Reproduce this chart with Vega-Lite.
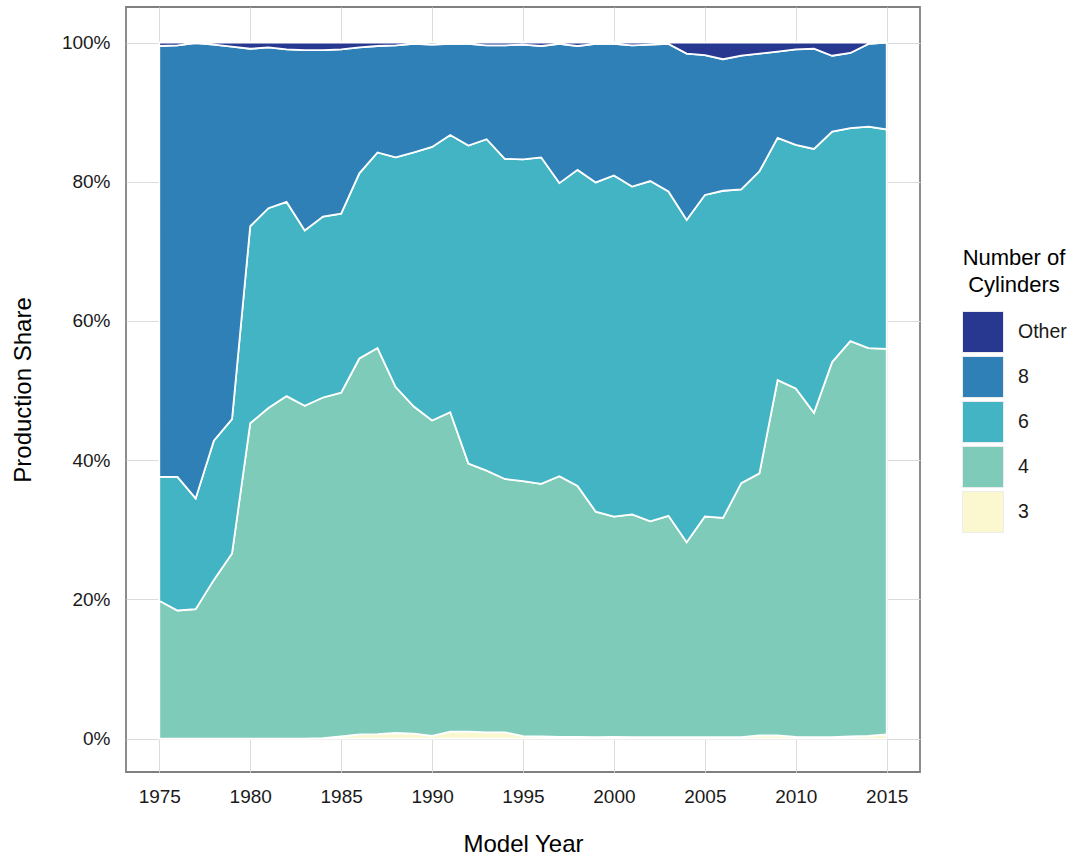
{
  "$schema": "https://vega.github.io/schema/vega-lite/v6.json",
  "autosize": {"type": "none"},
  "padding": {"left": 126, "top": 7, "right": 153, "bottom": 86},
  "width": 794,
  "height": 765,
  "background": "white",
  "config": {
    "font": "Liberation Sans",
    "view": {"stroke": "#808080", "strokeWidth": 1.8},
    "axis": {
      "domain": false, "ticks": false, "grid": true, "gridColor": "#dcdcdc", "gridWidth": 1,
      "labelFont": "Liberation Sans", "labelFontSize": 19, "labelColor": "#1a1a1a",
      "titleFont": "Liberation Sans", "titleFontSize": 24, "titleFontWeight": "normal", "titleColor": "#000000"
    },
    "legend": {
      "labelFont": "Liberation Sans", "labelFontSize": 19.5, "labelColor": "#1a1a1a",
      "titleFont": "Liberation Sans", "titleFontSize": 22, "titleFontWeight": "normal", "titleColor": "#000000"
    }
  },
  "data": {"values": [
    {"year":1975,"cyl":"3","share":0},{"year":1975,"cyl":"4","share":19.8},{"year":1975,"cyl":"6","share":17.8},{"year":1975,"cyl":"8","share":61.9},{"year":1975,"cyl":"Other","share":0.5},
    {"year":1976,"cyl":"3","share":0},{"year":1976,"cyl":"4","share":18.4},{"year":1976,"cyl":"6","share":19.2},{"year":1976,"cyl":"8","share":62.0},{"year":1976,"cyl":"Other","share":0.4},
    {"year":1977,"cyl":"3","share":0},{"year":1977,"cyl":"4","share":18.6},{"year":1977,"cyl":"6","share":15.9},{"year":1977,"cyl":"8","share":65.4},{"year":1977,"cyl":"Other","share":0.1},
    {"year":1978,"cyl":"3","share":0},{"year":1978,"cyl":"4","share":22.8},{"year":1978,"cyl":"6","share":20.0},{"year":1978,"cyl":"8","share":56.9},{"year":1978,"cyl":"Other","share":0.3},
    {"year":1979,"cyl":"3","share":0},{"year":1979,"cyl":"4","share":26.6},{"year":1979,"cyl":"6","share":19.3},{"year":1979,"cyl":"8","share":53.5},{"year":1979,"cyl":"Other","share":0.6},
    {"year":1980,"cyl":"3","share":0},{"year":1980,"cyl":"4","share":45.3},{"year":1980,"cyl":"6","share":28.3},{"year":1980,"cyl":"8","share":25.5},{"year":1980,"cyl":"Other","share":0.9},
    {"year":1981,"cyl":"3","share":0},{"year":1981,"cyl":"4","share":47.5},{"year":1981,"cyl":"6","share":28.7},{"year":1981,"cyl":"8","share":23.1},{"year":1981,"cyl":"Other","share":0.7},
    {"year":1982,"cyl":"3","share":0},{"year":1982,"cyl":"4","share":49.2},{"year":1982,"cyl":"6","share":27.9},{"year":1982,"cyl":"8","share":21.9},{"year":1982,"cyl":"Other","share":1.0},
    {"year":1983,"cyl":"3","share":0},{"year":1983,"cyl":"4","share":47.8},{"year":1983,"cyl":"6","share":25.2},{"year":1983,"cyl":"8","share":25.9},{"year":1983,"cyl":"Other","share":1.1},
    {"year":1984,"cyl":"3","share":0.05},{"year":1984,"cyl":"4","share":48.95},{"year":1984,"cyl":"6","share":26.0},{"year":1984,"cyl":"8","share":23.9},{"year":1984,"cyl":"Other","share":1.1},
    {"year":1985,"cyl":"3","share":0.3},{"year":1985,"cyl":"4","share":49.4},{"year":1985,"cyl":"6","share":25.7},{"year":1985,"cyl":"8","share":23.6},{"year":1985,"cyl":"Other","share":1.0},
    {"year":1986,"cyl":"3","share":0.6},{"year":1986,"cyl":"4","share":54.0},{"year":1986,"cyl":"6","share":26.6},{"year":1986,"cyl":"8","share":18.1},{"year":1986,"cyl":"Other","share":0.7},
    {"year":1987,"cyl":"3","share":0.65},{"year":1987,"cyl":"4","share":55.45},{"year":1987,"cyl":"6","share":28.1},{"year":1987,"cyl":"8","share":15.3},{"year":1987,"cyl":"Other","share":0.5},
    {"year":1988,"cyl":"3","share":0.8},{"year":1988,"cyl":"4","share":49.7},{"year":1988,"cyl":"6","share":33.0},{"year":1988,"cyl":"8","share":16.1},{"year":1988,"cyl":"Other","share":0.4},
    {"year":1989,"cyl":"3","share":0.7},{"year":1989,"cyl":"4","share":47.0},{"year":1989,"cyl":"6","share":36.5},{"year":1989,"cyl":"8","share":15.6},{"year":1989,"cyl":"Other","share":0.2},
    {"year":1990,"cyl":"3","share":0.4},{"year":1990,"cyl":"4","share":45.3},{"year":1990,"cyl":"6","share":39.3},{"year":1990,"cyl":"8","share":14.7},{"year":1990,"cyl":"Other","share":0.3},
    {"year":1991,"cyl":"3","share":1.0},{"year":1991,"cyl":"4","share":45.9},{"year":1991,"cyl":"6","share":39.8},{"year":1991,"cyl":"8","share":13.1},{"year":1991,"cyl":"Other","share":0.2},
    {"year":1992,"cyl":"3","share":1.0},{"year":1992,"cyl":"4","share":38.5},{"year":1992,"cyl":"6","share":45.7},{"year":1992,"cyl":"8","share":14.6},{"year":1992,"cyl":"Other","share":0.2},
    {"year":1993,"cyl":"3","share":0.9},{"year":1993,"cyl":"4","share":37.6},{"year":1993,"cyl":"6","share":47.6},{"year":1993,"cyl":"8","share":13.5},{"year":1993,"cyl":"Other","share":0.4},
    {"year":1994,"cyl":"3","share":0.9},{"year":1994,"cyl":"4","share":36.4},{"year":1994,"cyl":"6","share":46.0},{"year":1994,"cyl":"8","share":16.3},{"year":1994,"cyl":"Other","share":0.4},
    {"year":1995,"cyl":"3","share":0.35},{"year":1995,"cyl":"4","share":36.65},{"year":1995,"cyl":"6","share":46.2},{"year":1995,"cyl":"8","share":16.5},{"year":1995,"cyl":"Other","share":0.3},
    {"year":1996,"cyl":"3","share":0.3},{"year":1996,"cyl":"4","share":36.3},{"year":1996,"cyl":"6","share":46.9},{"year":1996,"cyl":"8","share":16.0},{"year":1996,"cyl":"Other","share":0.5},
    {"year":1997,"cyl":"3","share":0.25},{"year":1997,"cyl":"4","share":37.45},{"year":1997,"cyl":"6","share":42.1},{"year":1997,"cyl":"8","share":20.0},{"year":1997,"cyl":"Other","share":0.2},
    {"year":1998,"cyl":"3","share":0.25},{"year":1998,"cyl":"4","share":36.05},{"year":1998,"cyl":"6","share":45.4},{"year":1998,"cyl":"8","share":17.8},{"year":1998,"cyl":"Other","share":0.5},
    {"year":1999,"cyl":"3","share":0.2},{"year":1999,"cyl":"4","share":32.4},{"year":1999,"cyl":"6","share":47.3},{"year":1999,"cyl":"8","share":19.9},{"year":1999,"cyl":"Other","share":0.2},
    {"year":2000,"cyl":"3","share":0.25},{"year":2000,"cyl":"4","share":31.65},{"year":2000,"cyl":"6","share":49.0},{"year":2000,"cyl":"8","share":18.9},{"year":2000,"cyl":"Other","share":0.2},
    {"year":2001,"cyl":"3","share":0.2},{"year":2001,"cyl":"4","share":32.0},{"year":2001,"cyl":"6","share":47.1},{"year":2001,"cyl":"8","share":20.3},{"year":2001,"cyl":"Other","share":0.4},
    {"year":2002,"cyl":"3","share":0.2},{"year":2002,"cyl":"4","share":31.0},{"year":2002,"cyl":"6","share":48.9},{"year":2002,"cyl":"8","share":19.6},{"year":2002,"cyl":"Other","share":0.3},
    {"year":2003,"cyl":"3","share":0.2},{"year":2003,"cyl":"4","share":31.8},{"year":2003,"cyl":"6","share":46.6},{"year":2003,"cyl":"8","share":21.2},{"year":2003,"cyl":"Other","share":0.2},
    {"year":2004,"cyl":"3","share":0.2},{"year":2004,"cyl":"4","share":28.0},{"year":2004,"cyl":"6","share":46.3},{"year":2004,"cyl":"8","share":23.9},{"year":2004,"cyl":"Other","share":1.6},
    {"year":2005,"cyl":"3","share":0.2},{"year":2005,"cyl":"4","share":31.7},{"year":2005,"cyl":"6","share":46.2},{"year":2005,"cyl":"8","share":20.1},{"year":2005,"cyl":"Other","share":1.8},
    {"year":2006,"cyl":"3","share":0.2},{"year":2006,"cyl":"4","share":31.5},{"year":2006,"cyl":"6","share":47.0},{"year":2006,"cyl":"8","share":18.9},{"year":2006,"cyl":"Other","share":2.4},
    {"year":2007,"cyl":"3","share":0.2},{"year":2007,"cyl":"4","share":36.5},{"year":2007,"cyl":"6","share":42.2},{"year":2007,"cyl":"8","share":19.2},{"year":2007,"cyl":"Other","share":1.9},
    {"year":2008,"cyl":"3","share":0.45},{"year":2008,"cyl":"4","share":37.65},{"year":2008,"cyl":"6","share":43.4},{"year":2008,"cyl":"8","share":16.9},{"year":2008,"cyl":"Other","share":1.6},
    {"year":2009,"cyl":"3","share":0.45},{"year":2009,"cyl":"4","share":51.05},{"year":2009,"cyl":"6","share":34.8},{"year":2009,"cyl":"8","share":12.4},{"year":2009,"cyl":"Other","share":1.3},
    {"year":2010,"cyl":"3","share":0.25},{"year":2010,"cyl":"4","share":50.05},{"year":2010,"cyl":"6","share":35.0},{"year":2010,"cyl":"8","share":13.7},{"year":2010,"cyl":"Other","share":1.0},
    {"year":2011,"cyl":"3","share":0.2},{"year":2011,"cyl":"4","share":46.6},{"year":2011,"cyl":"6","share":37.9},{"year":2011,"cyl":"8","share":14.4},{"year":2011,"cyl":"Other","share":0.9},
    {"year":2012,"cyl":"3","share":0.2},{"year":2012,"cyl":"4","share":53.9},{"year":2012,"cyl":"6","share":33.1},{"year":2012,"cyl":"8","share":10.9},{"year":2012,"cyl":"Other","share":1.9},
    {"year":2013,"cyl":"3","share":0.3},{"year":2013,"cyl":"4","share":56.8},{"year":2013,"cyl":"6","share":30.6},{"year":2013,"cyl":"8","share":10.8},{"year":2013,"cyl":"Other","share":1.5},
    {"year":2014,"cyl":"3","share":0.4},{"year":2014,"cyl":"4","share":55.7},{"year":2014,"cyl":"6","share":31.8},{"year":2014,"cyl":"8","share":11.9},{"year":2014,"cyl":"Other","share":0.2},
    {"year":2015,"cyl":"3","share":0.6},{"year":2015,"cyl":"4","share":55.4},{"year":2015,"cyl":"6","share":31.5},{"year":2015,"cyl":"8","share":12.5},{"year":2015,"cyl":"Other","share":0.0}
  ]},
  "transform": [
    {"calculate": "indexof(['3','4','6','8','Other'], datum.cyl)", "as": "ord"}
  ],
  "mark": {"type": "area", "stroke": "white", "strokeWidth": 1.8, "strokeJoin": "miter", "fillOpacity": 1},
  "encoding": {
    "x": {
      "field": "year", "type": "quantitative",
      "scale": {"domain": [1973.17, 2016.83], "nice": false, "zero": false},
      "axis": {"values": [1975, 1980, 1985, 1990, 1995, 2000, 2005, 2010, 2015], "format": "d", "labelPadding": 15, "title": "Model Year", "titlePadding": 26, "labelFlush": false}
    },
    "y": {
      "field": "share", "type": "quantitative", "stack": "zero",
      "scale": {"domain": [-4.8, 105.1], "nice": false, "zero": false},
      "axis": {"values": [0, 20, 40, 60, 80, 100], "labelExpr": "datum.value + '%'", "labelPadding": 16, "title": "Production Share", "titlePadding": 26}
    },
    "color": {
      "field": "cyl", "type": "nominal",
      "scale": {"domain": ["Other", "8", "6", "4", "3"], "range": ["#283891", "#2e80b7", "#43b4c3", "#7fcbba", "#fbf8cf"]},
      "legend": {
        "title": ["Number of", "Cylinders"], "orient": "none", "legendX": 836, "legendY": 241,
        "titleAnchor": "middle", "titleAlign": "center", "titleLineHeight": 27, "titlePadding": 14,
        "symbolType": "square", "symbolSize": 1681, "symbolStrokeColor": "#ececec", "symbolStrokeWidth": 1,
        "symbolOpacity": 1, "symbolFillOpacity": 1,
        "rowPadding": -1, "labelOffset": 14, "padding": 0
      }
    },
    "order": {"field": "ord", "type": "quantitative"}
  }
}
